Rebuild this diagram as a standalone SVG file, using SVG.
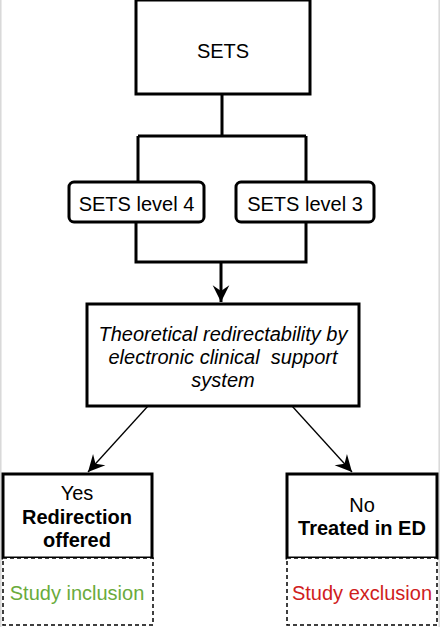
<svg xmlns="http://www.w3.org/2000/svg" width="440" height="627" viewBox="0 0 440 627">
<style>
.box{fill:#fff;stroke:#000;stroke-width:3}
.dash{fill:#fff;stroke:#000;stroke-width:1.5;stroke-dasharray:4,3}
.t{font-family:"Liberation Sans",Arial,sans-serif;font-size:20px;text-anchor:middle;fill:#000}
.it{font-style:italic}
.b{font-weight:bold}
.thick{fill:none;stroke:#000;stroke-width:3}
.thin{fill:none;stroke:#000;stroke-width:1.3}
</style>
<defs>
<marker id="ah" markerUnits="userSpaceOnUse" markerWidth="20" markerHeight="20" viewBox="-16 -8 18 16" refX="0" refY="0" orient="auto">
<path d="M0,0 L-15,-7.5 L-10,0 L-15,7.5 Z" fill="#000"/>
</marker>
</defs>
<rect x="0" y="0" width="440" height="627" fill="#fff"/>
<line x1="0.8" y1="0" x2="0.8" y2="627" stroke="#d8d8d8" stroke-width="1.5"/>
<line x1="439.2" y1="0" x2="439.2" y2="627" stroke="#d8d8d8" stroke-width="1.5"/>
<g id="connectors">
<path class="thick" d="M222,94 V136 M138,136 H306 M138,136 V182 M306,136 V182"/>
<path class="thick" d="M136,222 V262 H306 V222 M221,262 V302" marker-end="url(#ah)"/>
<path class="thin" d="M148,406 L88,472" marker-end="url(#ah)"/>
<path class="thin" d="M292,406 L352,472" marker-end="url(#ah)"/>
</g>
<g id="sets">
<rect class="box" x="136" y="0" width="174" height="94"/>
<text class="t" x="223" y="58">SETS</text>
</g>
<g id="level4">
<rect class="box" x="69" y="182" width="135" height="40" rx="5"/>
<text class="t" x="136.5" y="211">SETS level 4</text>
</g>
<g id="level3">
<rect class="box" x="236" y="182" width="138" height="40" rx="5"/>
<text class="t" x="305" y="211">SETS level 3</text>
</g>
<g id="theoretical">
<rect class="box" x="87" y="304" width="272" height="102"/>
<text class="t it" x="223" y="341">Theoretical redirectability by</text>
<text class="t it" x="223" y="364" xml:space="preserve" style="white-space:pre">electronic clinical  support</text>
<text class="t it" x="223" y="387">system</text>
</g>
<g id="yes">
<rect class="box" x="3" y="474" width="149" height="84"/>
<text class="t" x="77" y="500">Yes</text>
<text class="t b" x="77" y="524">Redirection</text>
<text class="t b" x="77" y="547">offered</text>
</g>
<g id="inclusion">
<rect class="dash" x="3" y="558" width="150" height="67"/>
<text class="t" x="77" y="600" style="fill:#6aab3c">Study inclusion</text>
</g>
<g id="no">
<rect class="box" x="287" y="474" width="150" height="84"/>
<text class="t" x="362" y="512">No</text>
<text class="t b" x="362" y="535">Treated in ED</text>
</g>
<g id="exclusion">
<rect class="dash" x="287" y="558" width="150" height="67"/>
<text class="t" x="362" y="600" style="fill:#d0201c">Study exclusion</text>
</g>
</svg>
